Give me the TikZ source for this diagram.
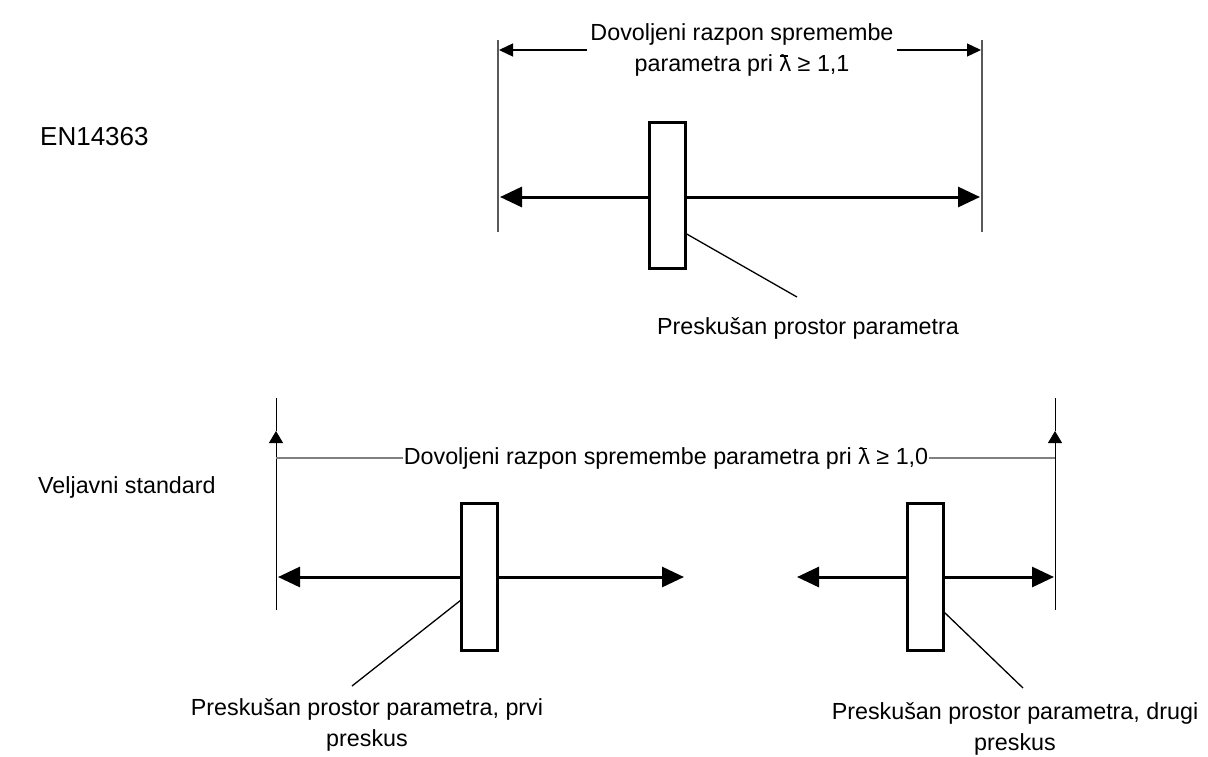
\documentclass[tikz,border=0pt]{standalone}
\usepackage{fontspec}
\setmainfont{Liberation Sans}
\usetikzlibrary{arrows.meta}
\newcommand{\lbar}{\leavevmode\rlap{\kern0.02em\rule[0.64em]{0.36em}{0.065em}}λ}
\begin{document}
\begin{tikzpicture}[x=1pt,y=-1pt,
  txt/.style={font=\fontsize{23.3}{31}\selectfont, inner sep=0pt, align=center},
  thinline/.style={line width=1.1pt, draw=black!65},
  dimarr/.style={line width=1.3pt, -{Triangle[length=14pt,width=13pt]}},
  thickarr/.style={line width=3pt, {Triangle[length=22pt,width=20pt]}-{Triangle[length=22pt,width=20pt]}},
  pbox/.style={draw, line width=3pt, fill=white, minimum width=36pt, inner sep=0pt},
  leader/.style={line width=1.3pt},
  upend/.style={line width=1pt, -{Triangle[length=12pt,width=14pt]}},
  graydim/.style={line width=1.6pt, draw=black!50}]
\useasboundingbox (0,0) rectangle (1208,756);
% ---------- top: EN14363 ----------
\node[txt, font=\fontsize{26}{31}\selectfont, anchor=west] (en) at (40,137) {EN14363};
\coordinate (tl1) at (498,40); \coordinate (tl2) at (498,232);
\coordinate (tr1) at (982,40); \coordinate (tr2) at (982,232);
\draw[thinline] (tl1) -- (tl2);
\draw[thinline] (tr1) -- (tr2);
\node[txt, inner sep=3pt] (dim1) at (742,50) {Dovoljeni razpon spremembe\\parametra pri \lbar{} ≥ 1,1};
\coordinate (d1l) at (499,50); \coordinate (d1r) at (981,50);
\draw[dimarr] (dim1.west) -- (d1l);
\draw[dimarr] (dim1.east) -- (d1r);
\coordinate (a1l) at (500,197); \coordinate (a1r) at (980,197);
\draw[thickarr] (a1l) -- (a1r);
\node[pbox, minimum height=146pt] (box1) at (667,195) {};
\node[txt] (lab1) at (808,328) {Preskušan prostor parametra};
\coordinate (l1a) at (685,233); \coordinate (l1b) at (797,297);
\draw[leader] (l1a) -- (l1b);
% ---------- bottom: Veljavni standard ----------
\node[txt, anchor=west] (vs) at (38,487) {Veljavni standard};
\coordinate (bl1) at (276,398); \coordinate (bl2) at (276,610); \coordinate (blt) at (276,431);
\coordinate (br1) at (1055,398); \coordinate (br2) at (1055,610); \coordinate (brt) at (1055,431);
\draw[upend] (bl2) -- (blt);
\draw[line width=1pt] (blt) -- (bl1);
\draw[upend] (br2) -- (brt);
\draw[line width=1pt] (brt) -- (br1);
\node[txt, inner sep=1pt] (dim2) at (666,458) {Dovoljeni razpon spremembe parametra pri \lbar{} ≥ 1,0};
\coordinate (d2l) at (276,458); \coordinate (d2r) at (1055,458);
\draw[graydim] (dim2.west) -- (d2l);
\draw[graydim] (dim2.east) -- (d2r);
\coordinate (a2l) at (278,577); \coordinate (a2r) at (684,577);
\draw[thickarr] (a2l) -- (a2r);
\coordinate (a3l) at (797,577); \coordinate (a3r) at (1054,577);
\draw[thickarr] (a3l) -- (a3r);
\node[pbox, minimum height=147pt] (box2) at (479,576.5) {};
\node[pbox, minimum height=147pt] (box3) at (925.5,576.5) {};
\coordinate (l2a) at (461,600); \coordinate (l2b) at (352,686);
\draw[leader] (l2a) -- (l2b);
\coordinate (l3a) at (944,612); \coordinate (l3b) at (1023,688);
\draw[leader] (l3a) -- (l3b);
\node[txt] (lab2) at (367,724.5) {Preskušan prostor parametra, prvi\\preskus};
\node[txt] (lab3) at (1015,729) {Preskušan prostor parametra, drugi\\preskus};
\end{tikzpicture}
\end{document}
